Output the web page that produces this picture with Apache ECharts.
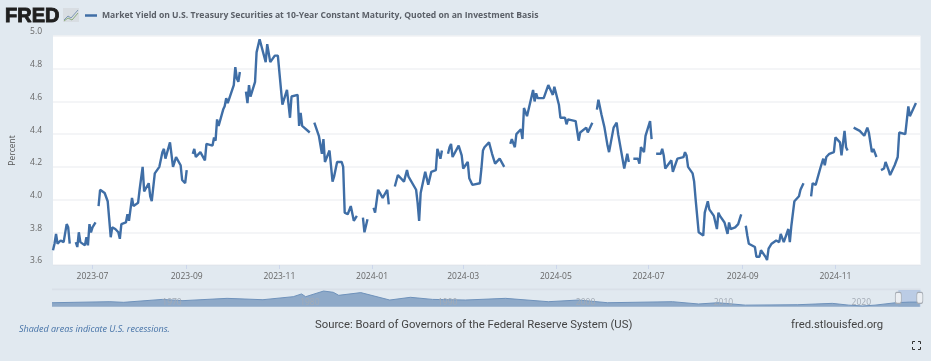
<!DOCTYPE html>
<html><head><meta charset="utf-8">
<style>html,body{margin:0;padding:0;background:#e1e9f0}#c{width:931px;height:361px}</style>
<script src="https://cdn.jsdelivr.net/npm/echarts@6/dist/echarts.min.js"></script>
</head><body><div id="c"></div>
<script>
const seriesName = 'Market Yield on U.S. Treasury Securities at 10-Year Constant Maturity, Quoted on an Investment Basis';
const startDate = Date.UTC(2023, 6, 1);
const dayOffsets = [
-26,-25,-24,-23,-21,-19,-18,-17,-16,-15,-12,
-11,-10,-9,-8,-7,-5,-4,-3,-2,-1,0,2,3,
4,5,6,8,10,11,12,13,15,17,18,19,20,22,23,24,26,27,30,31,33,34,37,38,39,41,44,46,47,48,51,52,53,55,58,59,61,62,65,
66,67,68,71,72,74,75,79,80,81,82,83,86,87,88,89,90,93,94,95,96,97,100,
101,102,103,104,107,108,110,114,115,117,120,122,125,128,130,131,135,136,137,138,143,145,
146,149,151,152,153,156,158,159,161,164,165,166,168,170,172,174,177,
178,179,181,184,
185,186,188,191,194,195,198,
199,201,202,205,207,208,209,213,214,215,216,219,221,223,226,227,229,230,233,
234,235,236,237,241,243,244,247,248,250,255,256,257,258,261,263,264,265,268,271,272,
275,276,277,278,279,282,283,284,285,286,290,291,292,293,297,300,303,304,307,308,311,312,313,314,318,320,321,322,325,326,329,331,
332,333,335,337,339,340,341,343,345,346,347,350,352,353,354,
356,359,360,361,363,364,367,368,369,
371,374,375,376,377,378,381,382,383,385,389,390,391,392,395,396,397,399,402,403,405,406,409,411,412,413,416,418,419,420,423,425,426,427,428,
430,431,432,436,437,439,440,443,444,445,447,450,452,453,455,458,459,460,462,465,466,468,471,
473,474,476,479,481,482,483,485,488,489,492,493,495,496,497,499,
501,502,505,508,510,511,513,514,516,517,
519,521,522,524,525,528,530,531,535,536,537,538,542
];
const yieldPct = [
3.69,3.73,3.79,3.73,3.75,3.74,3.73,3.85,3.83,3.73,null,
3.74,3.71,3.80,3.74,3.73,3.72,3.77,3.72,3.85,3.80,3.83,3.86,null,
3.96,4.06,4.07,4.04,3.99,3.88,3.77,3.83,3.82,3.80,3.76,3.85,3.84,3.86,3.91,3.87,4.01,3.96,3.98,4.06,4.20,4.05,4.10,4.02,3.99,4.16,4.20,4.29,4.31,4.25,4.35,4.35,4.20,4.26,4.21,4.12,4.10,4.18,null,
4.28,4.31,4.26,4.29,4.30,4.24,4.34,4.33,4.38,4.36,4.49,4.45,4.55,4.57,4.62,4.59,4.59,4.70,4.81,4.74,4.72,4.78,null,
4.66,4.59,4.70,4.63,4.72,4.90,4.98,4.84,4.95,4.84,4.88,4.88,4.58,4.67,4.50,4.63,4.64,4.45,4.53,4.45,4.41,null,
4.47,4.39,4.28,4.37,4.23,4.30,4.11,4.14,4.23,4.23,4.20,3.92,3.91,3.96,3.87,3.90,null,
3.89,3.80,3.88,null,
3.95,3.92,4.06,4.01,4.06,3.97,null,
4.08,4.15,4.16,4.11,4.18,4.14,4.15,4.06,3.98,3.87,4.04,4.17,4.09,4.17,4.18,4.31,4.25,4.30,null,
4.28,4.32,4.34,4.26,4.33,4.27,4.19,4.23,4.13,4.09,4.10,4.19,4.30,4.32,4.35,4.28,4.28,4.22,4.25,4.20,null,
4.34,4.37,4.37,4.32,4.40,4.43,4.37,4.56,4.57,4.51,4.67,4.60,4.65,4.62,4.62,4.70,4.64,4.69,4.58,4.50,4.50,4.46,4.49,4.50,4.48,4.36,4.41,4.42,4.44,4.41,4.47,null,
4.55,4.61,4.52,4.44,4.33,4.29,4.28,4.44,4.47,4.40,4.39,4.19,4.28,4.23,null,
4.25,4.25,4.22,4.32,4.29,4.39,4.48,4.37,null,
4.28,4.28,4.31,4.27,4.19,4.18,4.24,4.17,4.16,4.25,4.26,4.29,4.27,4.20,4.16,4.11,4.00,3.80,3.78,3.92,3.99,3.94,3.90,3.82,3.92,3.90,3.86,3.79,3.86,3.82,3.83,3.85,3.88,3.91,null,
3.84,3.78,3.73,3.71,3.65,3.65,3.69,3.65,3.63,3.70,3.73,3.75,3.74,3.79,3.74,3.82,3.74,3.84,3.99,4.02,4.06,4.10,null,
4.02,4.10,4.09,4.19,4.25,4.21,4.26,4.28,4.29,4.38,4.35,4.27,4.42,4.32,4.30,null,
4.44,4.44,4.42,4.39,4.44,4.41,4.29,4.31,4.26,null,
4.18,4.19,4.23,4.18,4.15,4.21,4.26,4.41,4.40,4.40,4.57,4.51,4.59
];
const tickDates = [[2023,6],[2023,8],[2023,10],[2024,0],[2024,2],[2024,4],[2024,6],[2024,8],[2024,10]];
const navYears = [1962,1966.2,1967.2,1970,1971.5,1974.7,1977.3,1979.5,1980.1,1980.4,1981.7,1982.4,1982.8,1984.4,1986.5,1988,1989.6,1992,1994.9,1998,2000.2,2002.3,2007,2008.9,2010.3,2012.3,2016.1,2018.6,2019.8,2020.8,2021.7,2023.2,2024.2,2024.95];
const navYield = [3.8,4.8,4.2,7.0,5.8,8.0,6.7,9.6,12.2,9.6,15.0,13.8,10.9,13.5,6.4,9.0,7.0,6.4,8.0,4.8,6.4,3.8,4.8,2.6,3.8,1.5,1.9,3.2,1.5,0.7,1.5,3.8,4.4,4.4];
const navLabels = [1970,1980,1990,2000,2010,2020];

const DAY = 86400000;
const toTime = d => startDate + d * DAY;
const tickTimes = tickDates.map(p => Date.UTC(p[0], p[1], 1));
const pad2 = n => (n < 10 ? '0' : '') + n;
const lineColor = '#3f6ea6';

const chart = echarts.init(document.getElementById('c'), null, {renderer:'canvas'});
chart.setOption({
  animation:false,
  backgroundColor:'#e1e9f0',
  textStyle:{fontFamily:'"Open Sans",sans-serif'},
  legend:{
    left:85, top:8, padding:[3,0,3,0], data:[seriesName], itemWidth:12, itemHeight:2.5, itemGap:3, icon:'rect',
    textStyle:{fontFamily:'"Open Sans"', fontWeight:'bold', fontSize:8.6, color:'#5b6068', padding:[0,0,0,0]}
  },
  title:[
    {text:'FRED', left:5, top:6.5, padding:0, textStyle:{fontFamily:'"Liberation Sans"', fontWeight:'bold', fontSize:20, color:'#1f1f1f', textBorderColor:'#1f1f1f', textBorderWidth:0.9}},
    {text:'Source: Board of Governors of the Federal Reserve System (US)', left:315, top:320, padding:0, textStyle:{fontFamily:'Roboto', fontWeight:'normal', fontSize:11.3, color:'#444'}},
    {text:'fred.stlouisfed.org', left:791, top:320, padding:0, textStyle:{fontFamily:'Roboto', fontWeight:'normal', fontSize:11.3, color:'#444'}},
    {text:'Shaded areas indicate U.S. recessions.', left:19, top:325, padding:0, textStyle:{fontFamily:'"Open Sans"', fontWeight:'normal', fontStyle:'italic', fontSize:9, color:'#4572a7'}}
  ],
  grid:[
    {left:52, top:36, width:868.5, height:229, show:true, backgroundColor:'#fff', borderWidth:0},
    {left:52, top:290, width:868.5, height:16.7, show:false}
  ],
  xAxis:[
    {type:'value', gridIndex:0, min:toTime(-26), max:toTime(545),
     axisLine:{show:true, lineStyle:{color:'#dfe5ec'}},
     axisTick:{show:true, length:4, lineStyle:{color:'#ccd6eb'}, customValues:tickTimes},
     splitLine:{show:false},
     axisLabel:{customValues:tickTimes, margin:7, fontSize:8.5, color:'#666', hideOverlap:false,
       formatter:v=>{const d=new Date(v);return d.getUTCFullYear()+'-'+pad2(d.getUTCMonth()+1);}}},
    {type:'value', gridIndex:1, min:1962, max:2025, z:10, axisLine:{show:false}, axisTick:{show:false}, splitLine:{show:false},
     axisLabel:{customValues:navLabels, inside:true, margin:0, align:'left', fontSize:8.5, color:'#a3abb5', formatter:v=>String(v)}}
  ],
  yAxis:[
    {type:'value', gridIndex:0, min:3.6, max:5.0, interval:0.2, name:'Percent', nameLocation:'middle', nameGap:36,
     nameTextStyle:{fontSize:8.5, color:'#555', fontFamily:'"Open Sans"'},
     axisLine:{show:false}, axisTick:{show:false},
     splitLine:{show:true, lineStyle:{color:'#f1f2f4', width:1.5}},
     axisLabel:{verticalAlign:'bottom', lineHeight:8, margin:11, fontSize:8.5, color:'#666', formatter:v=>v.toFixed(1)}},
    {type:'value', gridIndex:1, min:0, max:16, show:false}
  ],
  series:[
    {name:seriesName, type:'line', xAxisIndex:0, yAxisIndex:0, showSymbol:false, connectNulls:false, smooth:false,
     lineStyle:{color:lineColor, width:2.4}, itemStyle:{color:lineColor}, z:5,
     data:dayOffsets.map((d,i)=>[toTime(d), yieldPct[i]])},
    {name:'Navigator', type:'line', xAxisIndex:1, yAxisIndex:1, showSymbol:false, silent:true,
     lineStyle:{color:'#6f92bb', width:1}, areaStyle:{color:'#8ea9c8', opacity:1}, z:2,
     data:navYears.map((y,i)=>[y, navYield[i]]),
     markArea:{silent:true, itemStyle:{color:'rgba(100,140,205,0.3)'}, data:[[{xAxis:2023.39, yAxis:0},{xAxis:2025, yAxis:16}]]},
     markPoint:{silent:true, symbol:'roundRect', symbolSize:[6,11], itemStyle:{color:'#eceff3', borderColor:'#a5abb3', borderWidth:1}, label:{show:false},
       data:[{coord:[2023.39,8.5]},{coord:[2024.95,8.5]}]}}
  ],
  graphic:[
    {type:'rect', shape:{x:52,y:288.6,width:868.5,height:1.6}, style:{fill:'#d9e0e8'}, silent:true},
    {type:'rect', shape:{x:63,y:8,width:16,height:14}, style:{fill:'#d8dde2'}, silent:true},
    {type:'polyline', shape:{points:[[64,20],[68,16],[71,18],[78,10]]}, style:{stroke:'#7d97b5',lineWidth:1,fill:null}, silent:true},
    {type:'polyline', shape:{points:[[64,21],[68,18],[72,20],[78,13]]}, style:{stroke:'#8bab7c',lineWidth:1,fill:null}, silent:true},
    {type:'polyline', shape:{points:[[912.5,344],[912.5,341.5],[915,341.5]]}, style:{stroke:'#333',lineWidth:1,fill:null}, silent:true},
    {type:'polyline', shape:{points:[[918,341.5],[920.5,341.5],[920.5,344]]}, style:{stroke:'#333',lineWidth:1,fill:null}, silent:true},
    {type:'polyline', shape:{points:[[912.5,347],[912.5,349.5],[915,349.5]]}, style:{stroke:'#333',lineWidth:1,fill:null}, silent:true},
    {type:'polyline', shape:{points:[[918,349.5],[920.5,349.5],[920.5,347]]}, style:{stroke:'#333',lineWidth:1,fill:null}, silent:true}
  ]
});
</script></body></html>
